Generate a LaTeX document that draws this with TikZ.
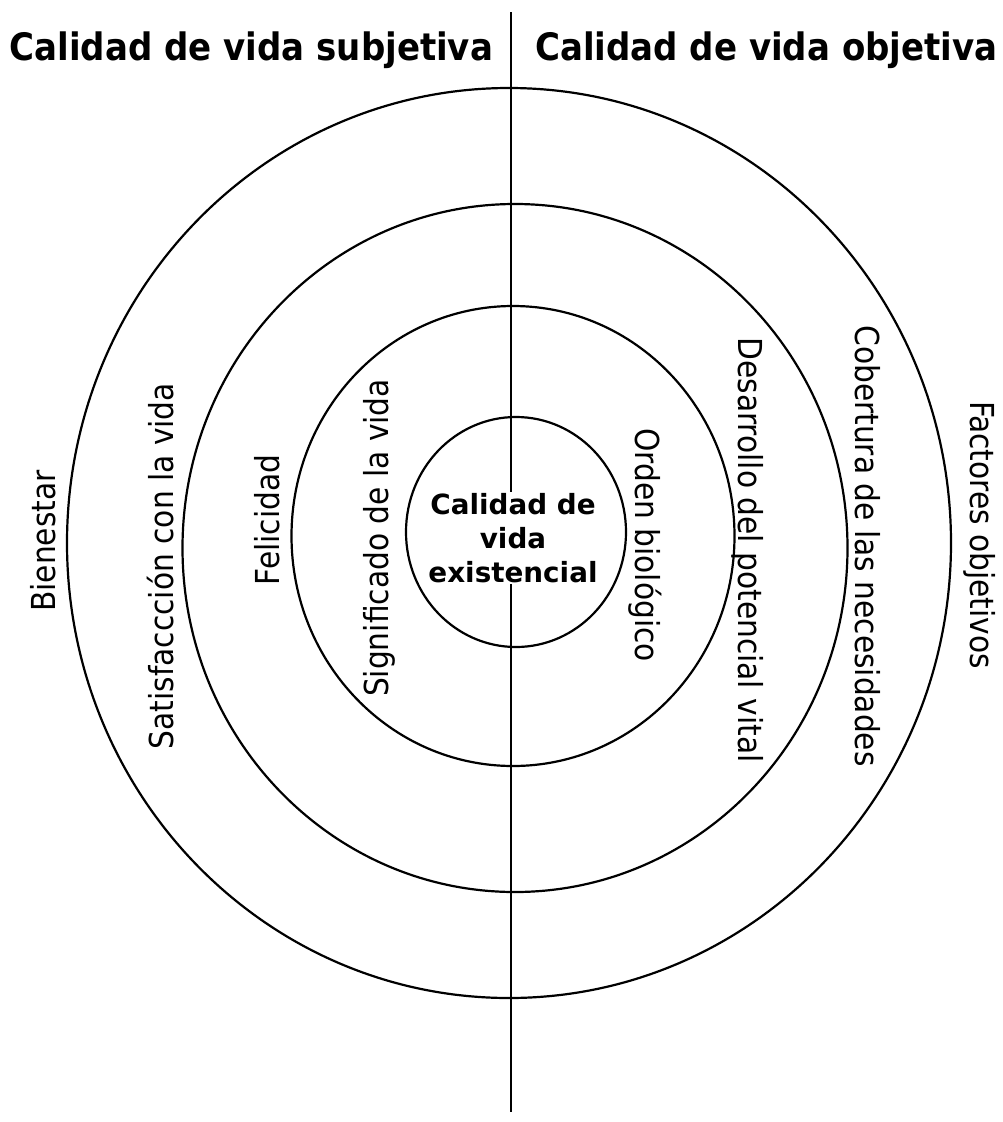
\documentclass[tikz,border=0pt]{standalone}
\usepackage{fontspec}
\usetikzlibrary{shapes.geometric}
\newfontfamily\condfont{DejaVu Sans Condensed}
\newfontfamily\dvfont{DejaVu Sans}
\begin{document}
\begin{tikzpicture}[x=1pt,y=-1pt,
  ring/.style={draw, ellipse, line width=2.2pt, inner sep=0pt, minimum width=#1},
  heading/.style={anchor=base, inner sep=0pt, font=\condfont\bfseries\fontsize{37.8}{45}\selectfont},
  leftlab/.style={rotate=90, inner sep=0pt, font=\condfont\fontsize{33}{40}\selectfont},
  rightlab/.style={rotate=-90, inner sep=0pt, font=\condfont\fontsize{33}{40}\selectfont}]
\useasboundingbox (0,0) rectangle (1003,1122);
\fill[white] (0,0) rectangle (1003,1122);
% axis
\coordinate (ltop) at (511,12);
\coordinate (lbot) at (511,1112);
\draw[line width=2.4pt] (ltop) -- (lbot);
% rings
\node[ring=884, minimum height=910] (outer) at (509,543) {};
\node[ring=665, minimum height=688] (second) at (515,548) {};
\node[ring=443, minimum height=460] (third) at (513,536) {};
\node[ring=220, minimum height=230] (inner) at (516,532) {};
% centre
\node[fill=white, inner sep=1pt, align=center, font=\dvfont\bfseries\fontsize{27.8}{34}\selectfont] (core) at (513,538) {Calidad de\\vida\\existencial};
% headings
\node[heading] (hsub) at (251.5,60) {Calidad de vida subjetiva};
\node[heading] (hobj) at (766.5,60) {Calidad de vida objetiva};
% left labels
\node[leftlab] (bien) at (43,541) {Bienestar};
\node[leftlab] (sat) at (161,566) {Satisfaccción con la vida};
\node[leftlab] (fel) at (267,520) {Felicidad};
\node[leftlab] (sig) at (379,538) {Significado de la vida};
% right labels
\node[rightlab] (ord) at (645,545) {Orden biológico};
\node[rightlab] (des) at (748,550) {Desarrollo del potencial vital};
\node[rightlab] (cob) at (868,546) {Cobertura de las necesidades};
\node[rightlab] (fac) at (980,535) {Factores objetivos};
\end{tikzpicture}
\end{document}
